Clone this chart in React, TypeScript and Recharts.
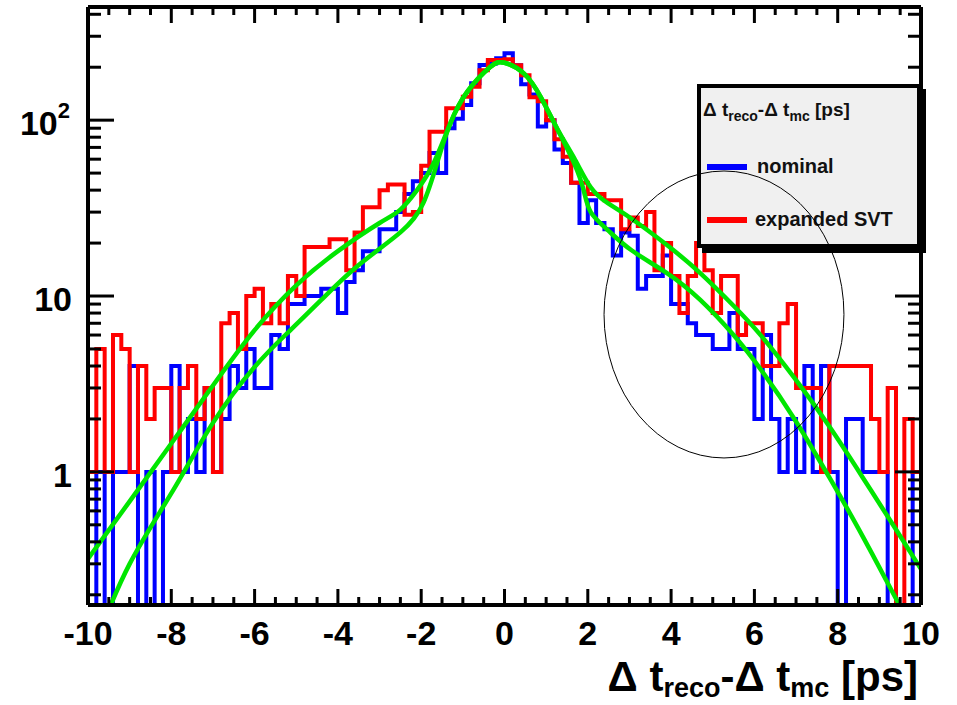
import { LineChart, Line, XAxis, YAxis } from "recharts";

// Histogram counts, 100 bins of 0.2 ps from -10 to 10
const nominalCounts = [
  0, 1, 0, 1, 1, 4, 0, 1, 0, 1,
  4, 1, 2, 1, 3, 1, 2, 4, 3, 5,
  3, 3, 6, 5, 9, 9, 10, 10, 11, 11,
  8, 12, 14, 18, 18, 24, 24, 30, 38, 45,
  50, 65, 50, 90, 102, 122, 162, 206, 210, 225,
  240, 205, 160, 140, 92, 100, 68, 57, 44, 26,
  35, 26, 24, 17, 23, 22, 11, 13, 13, 17,
  9, 9, 7, 6, 6, 5, 5, 8, 5, 5,
  2, 6, 2, 1, 2, 1, 4, 1, 4, 1,
  0, 2, 2, 1, 1, 1, 0, 0, 0, 1,
];
const expandedCounts = [
  1, 5, 1, 6, 5, 1, 4, 2, 3, 3,
  1, 3, 4, 2, 3, 1, 7, 8, 5, 10,
  11, 7, 9, 7, 13, 10, 19, 19, 19, 21,
  21, 14, 23, 32, 32, 40, 43, 43, 29, 30,
  55, 86, 86, 117, 117, 136, 155, 192, 220, 220,
  222, 205, 180, 135, 128, 100, 78, 62, 44, 44,
  38, 38, 35, 35, 24, 28, 25, 30, 14, 20,
  13, 8, 13, 20, 14, 8, 13, 13, 6, 7,
  7, 4, 4, 7, 9, 3, 3, 3, 1, 4,
  4, 4, 4, 4, 2, 1, 3, 0, 2, 1,
];

// fitted curves, points
const nominalFitX = [-9.8, -9.0, -7.95, -7.0, -6.0, -5.2, -4.4, -3.5, -2.5, -1.95, -1.6, -1.3, -0.9, -0.35, 0, 0.47, 0.88, 1.28, 1.67, 1.9, 2.07, 2.48, 3.05, 3.9, 4.7, 5.5, 6.16, 6.96, 7.8, 8.6, 9.4, 9.8];
const nominalFitY = [0.11, 0.3, 0.79, 1.9, 3.95, 6.2, 9.5, 15, 23, 33.8, 59, 96, 144, 200, 212, 184, 134, 88, 57, 40, 30, 23.7, 18.2, 13.5, 9.5, 6.0, 3.8, 2.0, 0.93, 0.43, 0.19, 0.13];
const expandedFitX = [-10, -9, -8, -7, -6, -5, -4, -3, -2.5, -2.1, -1.7, -1.3, -0.9, -0.35, 0, 0.47, 0.88, 1.28, 1.67, 2.07, 2.48, 3.05, 3.9, 4.7, 5.5, 6.16, 6.96, 7.8, 8.6, 9.4, 10];
const expandedFitY = [0.32, 0.68, 1.45, 3.1, 6.4, 11.5, 18, 26, 31, 40, 57, 96, 145, 200, 212, 184, 134, 88, 61, 41.5, 33.7, 27.5, 19.5, 13.5, 8.8, 5.95, 3.42, 1.81, 0.93, 0.47, 0.28];

const xMajor = [-10, -8, -6, -4, -2, 0, 2, 4, 6, 8, 10];
const yMajor = [1, 10, 100];

const X_MIN = -10;
const X_MAX = 10;
const Y_MIN = 0.175;
const Y_MAX = 440;
const FLOOR = 0.05; // empty bins drop below the frame

const xTicks: number[] = [];
for (let k = 0; k <= 40; k++) xTicks.push(X_MIN + k * 0.5);
const yTicks: number[] = [];
[0.1, 1, 10, 100].forEach((d) => {
  for (let m = 1; m <= 9; m++) {
    const v = m * d;
    if (v >= Y_MIN && v <= Y_MAX) yTicks.push(v);
  }
});

function toSteps(counts: number[]) {
  const w = (X_MAX - X_MIN) / counts.length;
  const pts = [{ x: X_MIN, y: FLOOR }];
  counts.forEach((c, i) => pts.push({ x: X_MIN + i * w, y: c > 0 ? c : FLOOR }));
  const last = counts[counts.length - 1];
  pts.push({ x: X_MAX, y: last > 0 ? last : FLOOR });
  pts.push({ x: X_MAX, y: FLOOR });
  return pts;
}

const nominalSteps = toSteps(nominalCounts);
const expandedSteps = toSteps(expandedCounts);
const nominalFit = nominalFitX.map((x, i) => ({ x, y: nominalFitY[i] }));
const expandedFit = expandedFitX.map((x, i) => ({ x, y: expandedFitY[i] }));

const W = 957;
const H = 705;
const PLOT = { left: 88, right: 921, top: 7, bottom: 605 };
const FONT = "'Liberation Sans', Arial, Helvetica, sans-serif";

// data -> pixel for the hand-drawn annotation
const px = (x: number) => PLOT.left + ((x - X_MIN) / (X_MAX - X_MIN)) * (PLOT.right - PLOT.left);
const py = (v: number) =>
  PLOT.top +
  ((Math.log10(Y_MAX) - Math.log10(v)) / (Math.log10(Y_MAX) - Math.log10(Y_MIN))) * (PLOT.bottom - PLOT.top);

const XTickBottom = (props: any) => {
  const { x, y, payload } = props;
  const major = xMajor.includes(payload.value);
  return (
    <g>
      <line x1={x} x2={x} y1={y} y2={y - (major ? 16 : 8)} stroke="#000" strokeWidth={3} />
      {major && (
        <text x={x} y={y + 40} textAnchor="middle" fontSize={34} fontWeight="bold" fontFamily={FONT} fill="#000">
          {String(payload.value)}
        </text>
      )}
    </g>
  );
};

const XTickTop = (props: any) => {
  const { x, y, payload } = props;
  const major = xMajor.includes(payload.value);
  return <line x1={x} x2={x} y1={y} y2={y + (major ? 16 : 8)} stroke="#000" strokeWidth={3} />;
};

const YTickLeft = (props: any) => {
  const { x, y, payload } = props;
  const v = payload.value;
  const major = yMajor.includes(v);
  return (
    <g>
      <line x1={x} x2={x + (major ? 26 : 13)} y1={y} y2={y} stroke="#000" strokeWidth={3} />
      {major && v === 100 && (
        <text x={x - 18} y={y + 15} textAnchor="end" fontSize={34} fontWeight="bold" fontFamily={FONT} fill="#000">
          10
          <tspan dy={-17} fontSize={22}>
            2
          </tspan>
        </text>
      )}
      {major && v !== 100 && (
        <text x={x - 16} y={y + 15} textAnchor="end" fontSize={34} fontWeight="bold" fontFamily={FONT} fill="#000">
          {String(v)}
        </text>
      )}
    </g>
  );
};

const YTickRight = (props: any) => {
  const { x, y, payload } = props;
  const major = yMajor.includes(payload.value);
  return <line x1={x} x2={x - (major ? 26 : 13)} y1={y} y2={y} stroke="#000" strokeWidth={3} />;
};

const axisLine = { stroke: "#000", strokeWidth: 4 };

export default function App() {
  return (
    <div style={{ position: "absolute", left: 0, top: 0, width: W, height: H, background: "#fff", fontFamily: FONT }}>
      <LineChart width={W} height={H} margin={{ top: 0, right: 0, bottom: 0, left: 0 }}>
        <XAxis
          xAxisId="b"
          type="number"
          dataKey="x"
          domain={[X_MIN, X_MAX]}
          ticks={xTicks}
          interval={0}
          height={H - PLOT.bottom}
          tickSize={0}
          tickMargin={0}
          tickLine={false}
          axisLine={axisLine}
          tick={<XTickBottom />}
          allowDataOverflow
        />
        <XAxis
          xAxisId="t"
          orientation="top"
          type="number"
          dataKey="x"
          domain={[X_MIN, X_MAX]}
          ticks={xTicks}
          interval={0}
          height={PLOT.top}
          tickSize={0}
          tickMargin={0}
          tickLine={false}
          axisLine={axisLine}
          tick={<XTickTop />}
          allowDataOverflow
        />
        <YAxis
          yAxisId="l"
          type="number"
          scale="log"
          domain={[Y_MIN, Y_MAX]}
          ticks={yTicks}
          interval={0}
          width={PLOT.left}
          tickSize={0}
          tickMargin={0}
          tickLine={false}
          axisLine={axisLine}
          tick={<YTickLeft />}
          allowDataOverflow
        />
        <YAxis
          yAxisId="r"
          orientation="right"
          type="number"
          scale="log"
          domain={[Y_MIN, Y_MAX]}
          ticks={yTicks}
          interval={0}
          width={W - PLOT.right}
          tickSize={0}
          tickMargin={0}
          tickLine={false}
          axisLine={axisLine}
          tick={<YTickRight />}
          allowDataOverflow
        />
        <Line
          xAxisId="b"
          yAxisId="l"
          data={nominalSteps}
          dataKey="y"
          type="stepAfter"
          stroke="#0000ff"
          strokeWidth={4}
          dot={false}
          isAnimationActive={false}
        />
        <Line
          xAxisId="b"
          yAxisId="l"
          data={expandedSteps}
          dataKey="y"
          type="stepAfter"
          stroke="#ff0000"
          strokeWidth={4}
          dot={false}
          isAnimationActive={false}
        />
        <Line
          xAxisId="b"
          yAxisId="l"
          data={nominalFit}
          dataKey="y"
          type="natural"
          stroke="#00e600"
          strokeWidth={4.5}
          dot={false}
          isAnimationActive={false}
        />
        <Line
          xAxisId="b"
          yAxisId="l"
          data={expandedFit}
          dataKey="y"
          type="natural"
          stroke="#00e600"
          strokeWidth={4.5}
          dot={false}
          isAnimationActive={false}
        />
      </LineChart>

      {/* legend box */}
      <div
        style={{
          position: "absolute",
          left: 697,
          top: 84,
          width: 224,
          height: 164,
          boxSizing: "border-box",
          background: "#f0f0f0",
          border: "4px solid #000",
          boxShadow: "5px 5px 0 #000",
          color: "#111",
          fontWeight: "bold",
        }}
      >
        <div style={{ position: "absolute", left: 2, top: 10, fontSize: 19, lineHeight: "24px", whiteSpace: "nowrap" }}>
          Δ t<span style={{ fontSize: 14, verticalAlign: "-5px" }}>reco</span>-Δ t
          <span style={{ fontSize: 14, verticalAlign: "-5px" }}>mc</span> [ps]
        </div>
        <div style={{ position: "absolute", left: 6, top: 76, width: 40, height: 6, background: "#0000ff" }} />
        <div style={{ position: "absolute", left: 56, top: 66, fontSize: 20, lineHeight: "24px" }}>nominal</div>
        <div style={{ position: "absolute", left: 6, top: 129, width: 40, height: 6, background: "#ff0000" }} />
        <div style={{ position: "absolute", left: 54, top: 119, fontSize: 20, lineHeight: "24px", whiteSpace: "nowrap" }}>
          expanded SVT
        </div>
      </div>

      {/* annotation ellipse and axis title */}
      <svg width={W} height={H} style={{ position: "absolute", left: 0, top: 0, pointerEvents: "none" }}>
        <ellipse
          cx={(px(2.39) + px(8.15)) / 2}
          cy={(py(51.4) + py(1.2)) / 2}
          rx={(px(8.15) - px(2.39)) / 2}
          ry={(py(1.2) - py(51.4)) / 2}
          fill="none"
          stroke="#000"
          strokeWidth={1}
        />
        <text x={918} y={691} textAnchor="end" fontSize={42} fontWeight="bold" fontFamily={FONT} fill="#000">
          Δ t
          <tspan fontSize={27} dy={6}>
            reco
          </tspan>
          <tspan dy={-6}>-Δ t</tspan>
          <tspan fontSize={27} dy={6}>
            mc
          </tspan>
          <tspan dy={-6}> [ps]</tspan>
        </text>
      </svg>
    </div>
  );
}
